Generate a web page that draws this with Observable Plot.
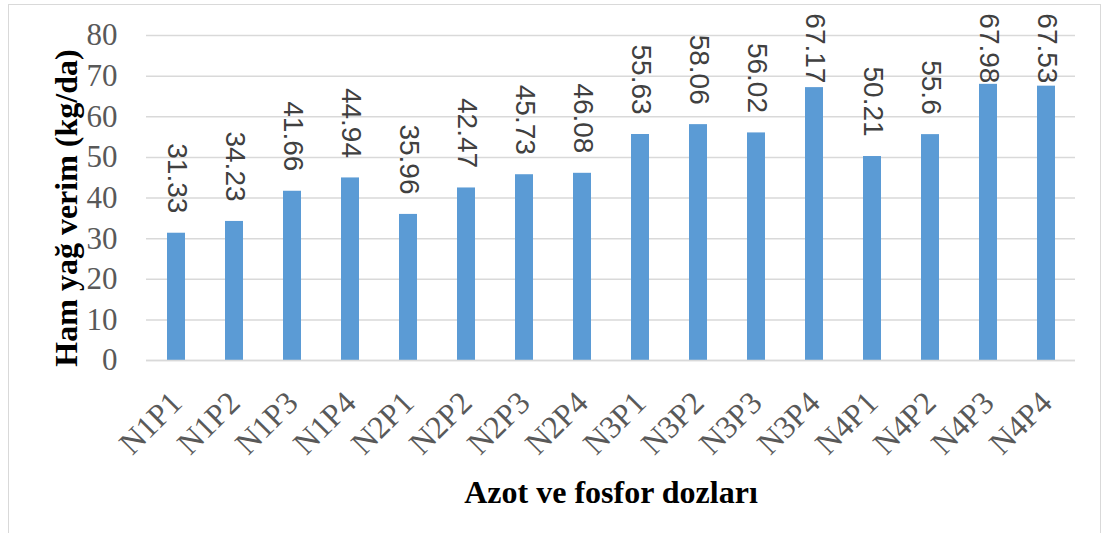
<!DOCTYPE html>
<html><head><meta charset="utf-8">
<script src="https://cdn.jsdelivr.net/npm/d3@7"></script>
<script src="https://cdn.jsdelivr.net/npm/@observablehq/plot@0.6"></script>
<style>
html,body{margin:0;padding:0;background:#fff;}
#wrap{position:relative;width:1105px;height:533px;overflow:hidden;}
#frame{position:absolute;left:8px;top:4px;width:1093px;height:540px;border:1.5px solid #d9d9d9;box-sizing:border-box;pointer-events:none;}
</style>
</head><body>
<div id="wrap"><div id="frame"></div></div>
<script>
const categories = ["N1P1","N1P2","N1P3","N1P4","N2P1","N2P2","N2P3","N2P4","N3P1","N3P2","N3P3","N3P4","N4P1","N4P2","N4P3","N4P4"];
const values = [31.33,34.23,41.66,44.94,35.96,42.47,45.73,46.08,55.63,58.06,56.02,67.17,50.21,55.6,67.98,67.53];
const valueLabels = ["31.33","34.23","41.66","44.94","35.96","42.47","45.73","46.08","55.63","58.06","56.02","67.17","50.21","55.6","67.98","67.53"];
const yTicks = [0,10,20,30,40,50,60,70,80];
const yTitle = "Ham yağ verim (kg/da)";
const xTitle = "Azot ve fosfor dozları";

const data = categories.map((c,i)=>({cat:c, v:values[i], lab:valueLabels[i]}));
const serif = "'Liberation Serif','Times New Roman',serif";
const sans = "'Liberation Sans',Arial,sans-serif";

const chart = Plot.plot({
  width:1105, height:533,
  marginLeft:146, marginRight:30, marginTop:35, marginBottom:173,
  style:{fontFamily:serif, background:"transparent", overflow:"visible"},
  x:{domain:categories, paddingInner:0.69, paddingOuter:0.345, axis:null},
  y:{domain:[0,80], axis:null},
  marks:[
    Plot.gridY(yTicks, {stroke:"#d9d9d9", strokeOpacity:1, strokeWidth:1.5}),
    Plot.barY(data, {x:"cat", y:"v", fill:"#5b9bd5"}),
    Plot.ruleY([0], {stroke:"#d9d9d9", strokeWidth:1.5}),
    Plot.axisY(yTicks, {tickSize:0, tickPadding:29, fontSize:31, fontFamily:serif, fill:"#595959", label:null, tickFormat:d=>String(d)}),
    Plot.axisX({tickSize:0, tickRotate:-45, tickPadding:37, fontSize:32, fontFamily:serif, fill:"#595959", label:null}),
    // value labels sit above each bar, pulled down inside the frame when near the top (as in the source chart)
    Plot.text(data, {x:"cat", y:d=>Math.min(d.v + 4.9, 68.2), text:"lab", rotate:90, textAnchor:"end", lineAnchor:"middle", fontSize:28, fontFamily:sans, fill:"#404040"}),
    Plot.text([yTitle], {frameAnchor:"left", textAnchor:"middle", dx:-80, dy:10, rotate:-90, fontSize:32, fontFamily:serif, fontWeight:"bold", fill:"#000"}),
    Plot.text([xTitle], {frameAnchor:"bottom", dy:142, fontSize:32, fontFamily:serif, fontWeight:"bold", fill:"#000"})
  ]
});
document.getElementById("wrap").prepend(chart);
</script>
</body></html>
